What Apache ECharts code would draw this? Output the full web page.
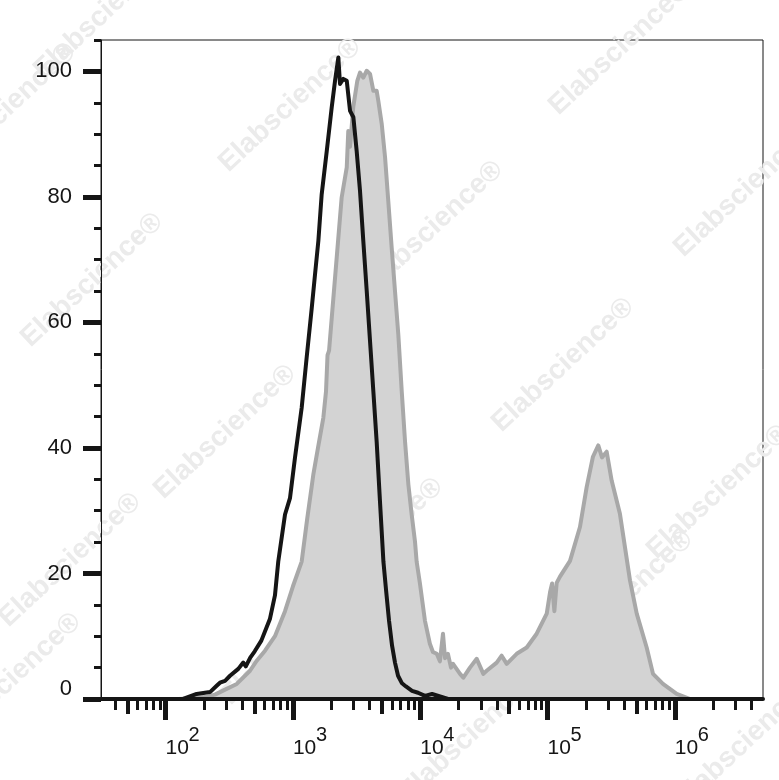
<!DOCTYPE html>
<html><head><meta charset="utf-8">
<script src="https://cdn.jsdelivr.net/npm/echarts@6/dist/echarts.min.js"></script>
<style>html,body{margin:0;padding:0;background:#fff}#c{width:779px;height:780px}</style>
</head><body><div id="c"></div>
<script>
// x = log10(fluorescence intensity), y = % of max
const isotypeX = [1.877,2.137,2.244,2.349,2.401,2.427,2.467,2.506,2.571,2.610,2.630,2.665,2.700,2.752,2.820,2.859,2.885,2.938,2.977,3.016,3.069,3.108,3.148,3.174,3.200,3.226,3.266,3.305,3.331,3.357,3.370,3.396,3.423,3.449,3.475,3.501,3.527,3.553,3.580,3.606,3.632,3.658,3.684,3.711,3.732,3.755,3.779,3.802,3.826,3.857,3.888,3.936,3.983,4.038,4.093,4.156,4.219];
const isotypeY = [0,0,0.8,1.1,2.1,2.6,2.9,3.7,4.8,5.8,5.2,6.6,7.6,9.3,12.8,16.5,21.9,29.4,32.0,38.4,46.4,54.4,62.3,67.7,73.0,80.4,87.3,94.3,98.5,102.2,98.0,98.8,98.5,93.7,92.7,87.3,81.0,73.0,65.0,57.0,49.0,41.0,31.5,21.9,17.3,12.5,8.5,5.8,3.7,2.5,2.0,1.3,1.0,0.5,0.8,0.4,0];
const stainedX = [2.100,2.192,2.310,2.388,2.467,2.559,2.663,2.716,2.781,2.859,2.938,3.001,3.069,3.111,3.160,3.197,3.239,3.260,3.272,3.284,3.305,3.344,3.383,3.423,3.435,3.449,3.474,3.506,3.527,3.553,3.580,3.606,3.632,3.658,3.671,3.698,3.724,3.749,3.776,3.802,3.828,3.855,3.881,3.907,3.933,3.959,3.972,3.998,4.037,4.076,4.100,4.130,4.155,4.179,4.195,4.218,4.242,4.258,4.313,4.339,4.391,4.444,4.496,4.522,4.601,4.640,4.680,4.758,4.837,4.915,4.994,5.020,5.036,5.054,5.072,5.098,5.177,5.255,5.308,5.357,5.399,5.428,5.465,5.504,5.569,5.648,5.701,5.779,5.829,5.907,6.015,6.121];
const stainedY = [0,0.1,0.3,0.7,1.5,2.4,4.5,6.1,7.7,10.0,14.0,18.0,21.9,28.5,35.7,40.0,44.8,49.0,54.8,55.5,60.7,70.3,79.9,84.7,90.5,88.0,94.3,98.5,99.8,99.0,100.1,99.6,96.9,96.9,95.3,91.6,86.3,79.4,71.9,65.0,58.1,49.0,41.0,34.2,29.4,25.1,21.9,18.4,12.5,8.8,7.5,7.2,6.0,10.4,6.5,7.2,5.0,5.6,4.0,3.4,5.0,6.4,4.0,4.5,5.8,6.9,5.6,7.2,8.2,10.4,13.6,17.0,18.4,14.0,18.5,19.5,22.0,27.4,33.8,38.6,40.4,38.5,39.4,34.8,29.5,18.9,13.6,8.2,4.0,2.4,0.8,0];
const xDecades = [2,3,4,5,6];
const yLabels = [0,20,40,60,80,100];
const yMinorValues = [5,10,15,25,30,35,45,50,55,65,70,75,85,90,95,105];
const X_MIN = 1.4925, X_MAX = 6.6929;

const zip = (xs, ys) => xs.map((x, i) => [x, ys[i]]);
const mediumTicks = [], minorTicks = [];
for (let n = 1; n <= 6; n++) {
  for (let k = 2; k <= 9; k++) {
    const v = n + Math.log10(k);
    if (v < X_MIN || v > X_MAX) continue;
    (k === 5 ? mediumTicks : minorTicks).push(v);
  }
}
const INK = '#151515';
const FONT = 'Liberation Sans, Arial, sans-serif';

const wm = [[105,12],[290,105],[620,48],[745,190],[432,228],[92,280],[563,365],[225,432],[718,492],[372,545],[70,560],[622,598],[292,638],[470,735],[745,742],[10,680],[5,110]];

const chart = echarts.init(document.getElementById('c'), null, {renderer: 'canvas'});
const xBase = {type: 'value', min: X_MIN, max: X_MAX, position: 'bottom', z: 10, splitLine: {show: false}};
const yBase = {type: 'value', min: 0, max: 105, position: 'left', z: 10, splitLine: {show: false}};
chart.setOption({
  animation: false,
  backgroundColor: '#fff',
  grid: {left: 101, right: 16, top: 40, bottom: 81, show: true, borderColor: INK, borderWidth: 1, backgroundColor: 'transparent'},
  graphic: {elements: wm.map(([x, y]) => ({
    type: 'text', x, y, rotation: 0.75, z: 0,
    style: {text: 'Elabscience®', font: 'bold 28px ' + FONT, fill: '#ebebeb', align: 'center', verticalAlign: 'middle'}
  }))},
  xAxis: [
    Object.assign({}, xBase, {
      axisLine: {lineStyle: {color: INK, width: 4}},
      axisTick: {customValues: xDecades, length: 21, lineStyle: {color: INK, width: 5}},
      axisLabel: {customValues: xDecades, align: 'left', margin: 34, color: INK,
        formatter: v => '{s|' + Math.round(v) + '}\n{b|10}',
        rich: {
          s: {fontSize: 20, lineHeight: 5, fontFamily: FONT, color: INK, padding: [0, 0, 0, 23]},
          b: {fontSize: 21, lineHeight: 20, fontFamily: FONT, color: INK}
        }}
    }),
    Object.assign({}, xBase, {
      axisLine: {show: false},
      axisTick: {customValues: mediumTicks, length: 15, lineStyle: {color: INK, width: 4}},
      axisLabel: {show: false}
    }),
    Object.assign({}, xBase, {
      axisLine: {show: false},
      axisTick: {customValues: minorTicks, length: 11, lineStyle: {color: INK, width: 3}},
      axisLabel: {show: false}
    })
  ],
  yAxis: [
    Object.assign({}, yBase, {
      axisLine: {show: true, lineStyle: {color: INK, width: 1}},
      axisTick: {customValues: yLabels, length: 18, lineStyle: {color: INK, width: 5}},
      axisLabel: {customValues: yLabels, margin: 29, fontSize: 22, fontFamily: FONT, color: INK,
        formatter: v => v === 0 ? '{z|0}' : String(v),
        rich: {z: {fontSize: 22, fontFamily: FONT, color: INK, padding: [0, 0, 20, 0]}}}
    }),
    Object.assign({}, yBase, {
      axisLine: {show: false},
      axisTick: {customValues: yMinorValues, length: 7, lineStyle: {color: INK, width: 3}},
      axisLabel: {show: false}
    })
  ],
  series: [
    {type: 'line', name: 'stained', xAxisIndex: 0, yAxisIndex: 0, data: zip(stainedX, stainedY),
     showSymbol: false, smooth: false, z: 2,
     lineStyle: {color: '#a8a8a8', width: 4, join: 'round'},
     areaStyle: {color: '#d3d3d3', opacity: 1}},
    {type: 'line', name: 'isotype', xAxisIndex: 0, yAxisIndex: 0, data: zip(isotypeX, isotypeY),
     showSymbol: false, smooth: false, z: 3,
     lineStyle: {color: INK, width: 4, join: 'round'}}
  ]
});
</script></body></html>
